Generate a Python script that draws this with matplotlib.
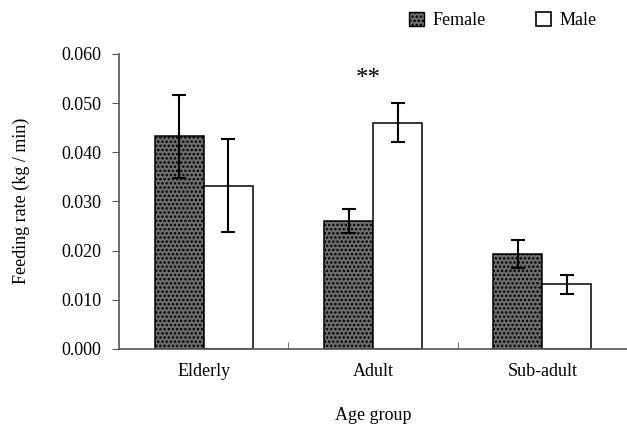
import numpy as np
import matplotlib.pyplot as plt
from matplotlib.patches import Patch

plt.rcParams['font.family'] = 'Liberation Serif'
plt.rcParams['hatch.linewidth'] = 1.2

groups = ['Elderly', 'Adult', 'Sub-adult']
female = [0.0432, 0.0260, 0.0193]
female_err = [0.0085, 0.0024, 0.0029]
male = [0.0332, 0.0460, 0.0131]
male_err = [0.0095, 0.0040, 0.0020]

fig = plt.figure(figsize=(6.27, 4.28), dpi=100)
ax = fig.add_axes([0.19, 0.185, 0.81, 0.689])

x = np.arange(len(groups))
w = 0.29
ax.bar(x - w/2, female, w, color='#6e6e6e', edgecolor='black', hatch='....',
       linewidth=1.1, yerr=female_err, capsize=5,
       error_kw=dict(elinewidth=1.5, capthick=1.5))
ax.bar(x + w/2, male, w, color='white', edgecolor='black',
       linewidth=1.1, yerr=male_err, capsize=5,
       error_kw=dict(elinewidth=1.5, capthick=1.5))

ax.text(0.97, 0.0548, '**', ha='center', va='center', fontsize=18)

ax.set_xlim(-0.5, 2.5)
ax.set_ylim(0, 0.06)
ax.set_yticks(np.arange(0, 0.0601, 0.01))
ax.set_yticklabels(['%.3f' % v for v in np.arange(0, 0.0601, 0.01)])
ax.set_xticks(x)
ax.set_xticklabels(groups)
ax.set_xticks([0.5, 1.5], minor=True)
ax.tick_params(axis='x', which='major', length=0, pad=10, labelsize=13)
ax.tick_params(axis='x', which='minor', direction='in', length=5, color='#555555')
ax.tick_params(axis='y', direction='out', length=5, labelsize=13, color='#555555', pad=8)
for s in ['top', 'right']:
    ax.spines[s].set_visible(False)
for s in ['left', 'bottom']:
    ax.spines[s].set_color('#555555')
    ax.spines[s].set_linewidth(1.2)

ax.set_ylabel('Feeding rate (kg / min)', fontsize=13)
ax.yaxis.set_label_coords(-0.175, 0.5)
ax.set_xlabel('Age group', fontsize=13, labelpad=20)

handles = [Patch(facecolor='#6e6e6e', edgecolor='black', hatch='....', label='Female'),
           Patch(facecolor='white', edgecolor='black', linewidth=1.2, label='Male')]
fig.legend(handles=handles, ncol=2, frameon=False, loc='upper right',
           bbox_to_anchor=(0.978, 1.01), fontsize=13, handlelength=0.8,
           handleheight=0.8, columnspacing=2.8, handletextpad=0.5)

fig.savefig('out.png', dpi=100)
